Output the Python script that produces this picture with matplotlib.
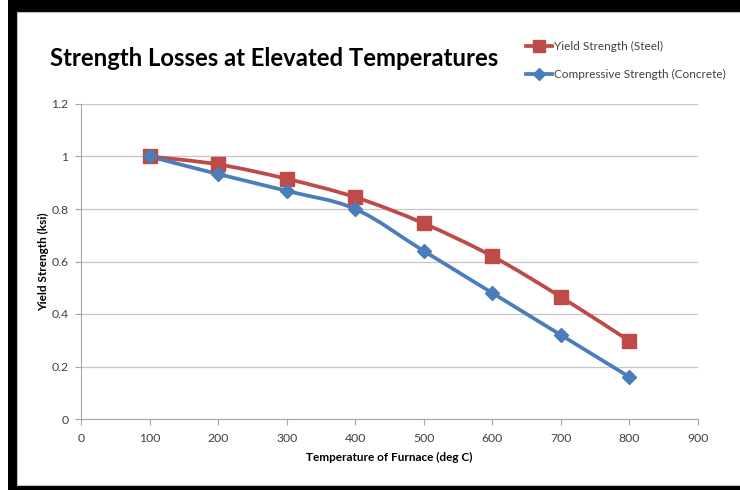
import matplotlib
matplotlib.use("Agg")
import matplotlib.pyplot as plt
from matplotlib.path import Path
from matplotlib.patches import PathPatch, Rectangle
import numpy as np

temperature = [100, 200, 300, 400, 500, 600, 700, 800]
steel_yield = [1.0, 0.97, 0.915, 0.845, 0.745, 0.62, 0.465, 0.297]
concrete_comp = [1.0, 0.933, 0.869, 0.80, 0.64, 0.48, 0.32, 0.16]

x_ticks = [0, 100, 200, 300, 400, 500, 600, 700, 800, 900]
y_ticks = [0, 0.2, 0.4, 0.6, 0.8, 1.0, 1.2]
y_tick_labels = ["0", "0.2", "0.4", "0.6", "0.8", "1", "1.2"]

title = "Strength Losses at Elevated Temperatures"
x_label = "Temperature of Furnace (deg C)"
y_label = "Yield Strength (ksi)"
steel_name = "Yield Strength (Steel)"
concrete_name = "Compressive Strength (Concrete)"

RED = "#BE4B48"
BLUE = "#4A7EBB"
GRID = "#C6C6C6"
TXT = "#404040"

plt.rcParams["font.family"] = ["Lato", "DejaVu Sans"]


def smooth_path(xs, ys):
    """Bezier path through the points, with Catmull-Rom style tangents."""
    pts = np.column_stack([xs, ys]).astype(float)
    n = len(pts)
    verts = [pts[0]]
    codes = [Path.MOVETO]
    for i in range(n - 1):
        p0 = pts[i - 1] if i > 0 else pts[i]
        p1 = pts[i]
        p2 = pts[i + 1]
        p3 = pts[i + 2] if i + 2 < n else pts[i + 1]
        c1 = p1 + (p2 - p0) / 6.0
        c2 = p2 - (p3 - p1) / 6.0
        verts += [c1, c2, p2]
        codes += [Path.CURVE4] * 3
    return Path(verts, codes)


fig = plt.figure(figsize=(7.4, 4.9), dpi=100)

# black frame around the chart area
fig.add_artist(Rectangle((8 / 740, 0), 1, 1, transform=fig.transFigure,
                         facecolor="black", edgecolor="none", zorder=-10))
fig.add_artist(Rectangle((17 / 740, 5 / 490), 1, 473 / 490,
                         transform=fig.transFigure, facecolor="white",
                         edgecolor="#BFBFBF", linewidth=0.8, zorder=-9))

ax = fig.add_axes([81 / 740, (490 - 419) / 490, (698 - 81) / 740, (419 - 104) / 490])
ax.set_xlim(0, 900)
ax.set_ylim(0, 1.2)

for series, color, marker, msize in [
    (steel_yield, RED, "s", 9.5),
    (concrete_comp, BLUE, "D", 7.5),
]:
    ax.add_patch(PathPatch(smooth_path(temperature, series), facecolor="none",
                           edgecolor=color, linewidth=2.7, zorder=3,
                           capstyle="round", joinstyle="round"))
    ax.plot(temperature, series, linestyle="none", marker=marker,
            markersize=msize, markerfacecolor=color, markeredgecolor=color,
            zorder=4)

ax.set_xticks(x_ticks)
ax.set_xticklabels([str(t) for t in x_ticks])
ax.set_yticks(y_ticks)
ax.set_yticklabels(y_tick_labels)
ax.grid(axis="y", color=GRID, linewidth=0.9)
ax.set_axisbelow(True)
for side in ["top", "right"]:
    ax.spines[side].set_visible(False)
for side in ["left", "bottom"]:
    ax.spines[side].set_color("#A6A6A6")
    ax.spines[side].set_linewidth(0.8)
ax.tick_params(axis="both", colors="#A6A6A6", labelcolor=TXT, labelsize=8.8,
               length=4, width=0.8, direction="out")
ax.tick_params(axis="x", pad=6)
ax.tick_params(axis="y", pad=5)

ax.set_xlabel(x_label, fontsize=8.5, fontweight="bold", color="black", labelpad=6)
ax.set_ylabel(y_label, fontsize=8.5, fontweight="bold", color="black", labelpad=2)

fig.text(50 / 740, 1 - 59 / 490, title, fontsize=17.2, fontweight="bold",
         color="black", ha="left", va="center")

# legend
for (name, color, marker, msize, ypix) in [
    (steel_name, RED, "s", 8, 46),
    (concrete_name, BLUE, "D", 6, 74),
]:
    yf = 1 - ypix / 490
    fig.add_artist(plt.Line2D([526 / 740, 552 / 740], [yf, yf], color=color,
                              linewidth=2.7, transform=fig.transFigure))
    fig.add_artist(plt.Line2D([539 / 740], [yf], marker=marker, markersize=msize,
                              color=color, transform=fig.transFigure))
    fig.text(554 / 740, yf, name, fontsize=8.5, color=TXT, ha="left", va="center")

fig.savefig("out.png", dpi=100)
